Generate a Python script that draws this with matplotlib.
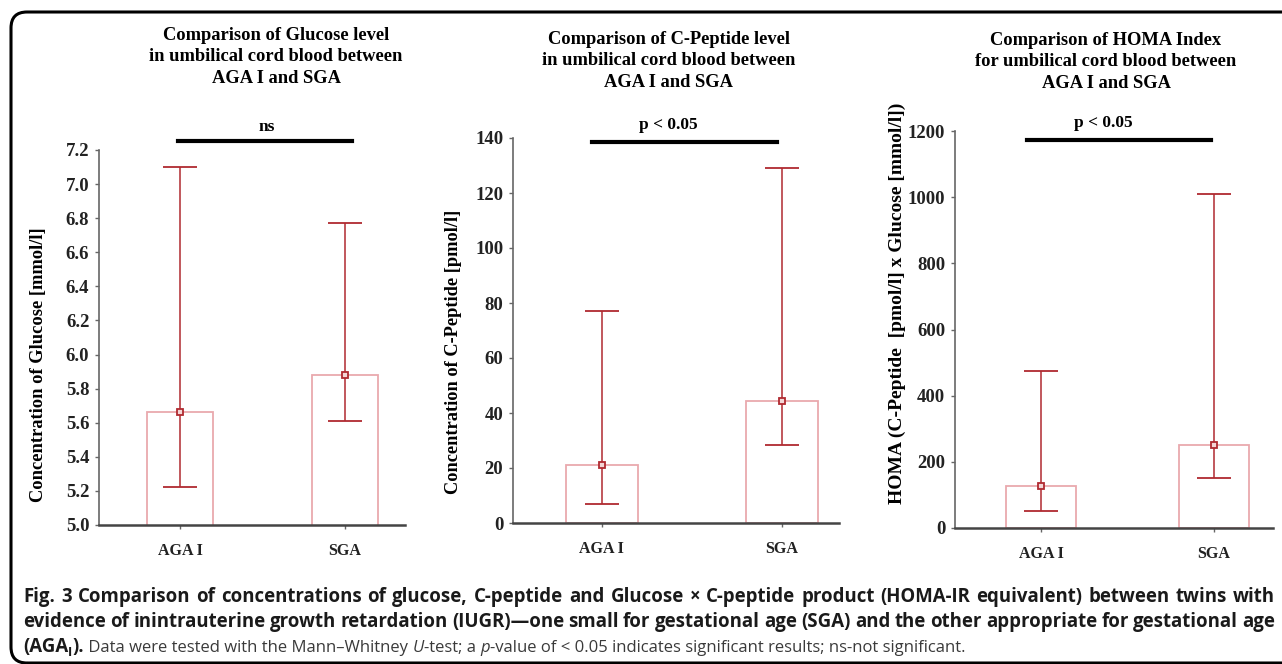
import matplotlib
matplotlib.use("Agg")
import matplotlib.pyplot as plt
from matplotlib.patches import FancyBboxPatch
from matplotlib.transforms import IdentityTransform
import numpy as np

#----------------------------------------------------------------------------------------#
# data

groups = ["AGA I", "SGA"]

glucose_mid = [5.66, 5.88]
glucose_low = [5.22, 5.61]
glucose_high = [7.10, 6.77]

cpep_mid = [21.0, 44.5]
cpep_low = [7.0, 28.5]
cpep_high = [77.0, 129.0]

homa_mid = [128.0, 250.0]
homa_low = [52.0, 150.0]
homa_high = [475.0, 1009.0]

glucose_ticks = [5.0, 5.2, 5.4, 5.6, 5.8, 6.0, 6.2, 6.4, 6.6, 6.8, 7.0, 7.2]
cpep_ticks = [0, 20, 40, 60, 80, 100, 120, 140]
homa_ticks = [0, 200, 400, 600, 800, 1000, 1200]

titles = ["Comparison of Glucose level\nin umbilical cord blood between\nAGA I and SGA",
          "Comparison of C-Peptide level\nin umbilical cord blood between\nAGA I and SGA",
          "Comparison of HOMA Index\nfor umbilical cord blood between\nAGA I and SGA"]
ylabels = ["Concentration of Glucose [mmol/l]",
           "Concentration of C-Peptide [pmol/l]",
           "HOMA (C-Peptide  [pmol/l] x Glucose [mmol/l])"]
sig_labels = ["ns", "p < 0.05", "p < 0.05"]

#----------------------------------------------------------------------------------------#

W, H = 1282, 664
fig = plt.figure(figsize=(W / 100, H / 100), dpi=100)

serif = "Liberation Serif"
bar_edge = "#e9a9ae"
err_col = "#b02a30"
axis_col = "#666666"

def px_box(l, r, t, b):
    return [l / W, (H - b) / H, (r - l) / W, (b - t) / H]

# axes frames in pixels: left, right, top, bottom
boxes = [(99, 405, 150, 525), (513, 839, 138, 523), (955, 1273, 131, 528)]
xlims = [(-0.491, 1.364), (-0.494, 1.317), (-0.497, 1.341)]
ylims = [(5.0, 7.2), (0, 140), (0, 1200)]
ticks = [glucose_ticks, cpep_ticks, homa_ticks]
fmts = ["{:.1f}", "{:d}", "{:d}"]
mids = [glucose_mid, cpep_mid, homa_mid]
lows = [glucose_low, cpep_low, homa_low]
highs = [glucose_high, cpep_high, homa_high]
sig_y = [7.252, 138.5, 1172]
sig_x = [(-0.012, 1.042), (-0.056, 0.972), (-0.081, 0.983)]
sig_txt_x = [0.527, 0.37, 0.358]
sig_txt_y = [7.335, 144.7, 1224]
title_pos = [(276, 35), (669, 39), (1106, 40)]
ylabel_pos = [(39, 365), (453, 352), (897, 303)]
ylabel_size = [13.3, 13.2, 14.0]

for i in range(3):
    ax = fig.add_axes(px_box(*boxes[i]))
    x = np.arange(len(groups))
    mid = np.array(mids[i])
    yerr = [mid - np.array(lows[i]), np.array(highs[i]) - mid]

    ax.bar(x, mid, width=0.4, color="white", edgecolor=bar_edge, linewidth=1.3, zorder=2)
    ax.errorbar(x, mid, yerr=yerr, fmt="s", ms=5, mfc="#f3d6d6", mec=err_col, mew=1.3,
                ecolor=err_col, elinewidth=1.1, capsize=12, capthick=2.0, zorder=3)

    ax.set_xlim(*xlims[i])
    ax.set_ylim(*ylims[i])
    ax.set_xticks(x)
    ax.set_xticklabels(groups, fontfamily=serif, fontweight="bold", fontsize=11.5, color="#222222")
    ax.set_yticks(ticks[i])
    ax.set_yticklabels([fmts[i].format(t) for t in ticks[i]], fontfamily=serif,
                       fontweight="bold", fontsize=13.5, color="#222222")
    ax.tick_params(axis="y", length=3, width=1, color=axis_col, pad=4)
    ax.tick_params(axis="x", length=3, width=1, color=axis_col, pad=10)

    for s in ["top", "right"]:
        ax.spines[s].set_visible(False)
    ax.spines["left"].set_color(axis_col)
    ax.spines["left"].set_linewidth(1.2)
    ax.spines["bottom"].set_color("#444444")
    ax.spines["bottom"].set_linewidth(1.8)

    # significance bar above the plot
    ax.plot(sig_x[i], [sig_y[i], sig_y[i]], color="black", lw=3, clip_on=False, zorder=4)
    ax.text(sig_txt_x[i], sig_txt_y[i], sig_labels[i], ha="center", va="center",
            fontfamily=serif, fontweight="bold", fontsize=12.5, clip_on=False)

    tx, ty = title_pos[i]
    fig.text(tx / W, 1 - (ty - 8) / H, titles[i], ha="center", va="top", fontfamily=serif,
             fontweight="bold", fontsize=13.3, linespacing=1.33)
    lx, ly = ylabel_pos[i]
    fig.text(lx / W, 1 - ly / H, ylabels[i], ha="center", va="center", rotation=90,
             fontfamily=serif, fontweight="bold", fontsize=ylabel_size[i])

#----------------------------------------------------------------------------------------#
# frame with rounded corners (display pixels, origin bottom-left)

frame = FancyBboxPatch((11, 1), 1400, H - 12 - 1,
                       boxstyle="round,pad=0,rounding_size=16",
                       transform=IdentityTransform(), fill=False, edgecolor="black",
                       linewidth=2.2)
fig.patches.append(frame)

#----------------------------------------------------------------------------------------#
# caption, drawn run by run

renderer = fig.canvas.get_renderer()
sans = "Open Sans"
cap_col = "#1a1a1a"
reg_col = "#3a3a3a"

def run(x_px, y_px, s, **kw):
    t = fig.text(x_px / W, 1 - y_px / H, s, ha="left", va="baseline", fontfamily=sans, **kw)
    return x_px + t.get_window_extent(renderer).width

def justified(line, y_px, x0, x1, **kw):
    words = line.split(" ")
    arts = [fig.text(0, 0, w, ha="left", va="baseline", fontfamily=sans, **kw) for w in words]
    widths = [a.get_window_extent(renderer).width for a in arts]
    gap = (x1 - x0 - sum(widths)) / (len(words) - 1)
    xp = x0
    for a, w in zip(arts, widths):
        a.set_position((xp / W, 1 - y_px / H))
        xp += w + gap

line1 = ("Fig. 3 Comparison of concentrations of glucose, C-peptide and Glucose \u00d7 C-peptide "
         "product (HOMA-IR equivalent) between twins with")
line2 = ("evidence of inintrauterine growth retardation (IUGR)\u2014one small for gestational "
         "age (SGA) and the other appropriate for gestational age")

cap_size = 13.4
justified(line1, 602, 23, 1275, fontweight="bold", fontsize=cap_size, color=cap_col)
justified(line2, 627, 23, 1275, fontweight="bold", fontsize=cap_size, color=cap_col)

xp = run(23, 652, "(AGA", fontweight="bold", fontsize=cap_size, color=cap_col)
xp = run(xp, 656, "I", fontweight="bold", fontsize=cap_size * 0.7, color=cap_col)
xp = run(xp, 652, ").", fontweight="bold", fontsize=cap_size, color=cap_col)
reg = 12.0
xp = run(xp, 652, " Data were tested with the Mann\u2013Whitney ", fontsize=reg, color=reg_col)
xp = run(xp, 652, "U", fontsize=reg, color=reg_col, fontstyle="italic")
xp = run(xp, 652, "-test; a ", fontsize=reg, color=reg_col)
xp = run(xp, 652, "p", fontsize=reg, color=reg_col, fontstyle="italic")
xp = run(xp, 652, "-value of < 0.05 indicates significant results; ns-not significant.",
         fontsize=reg, color=reg_col)

plt.savefig("out.png", dpi=100)
